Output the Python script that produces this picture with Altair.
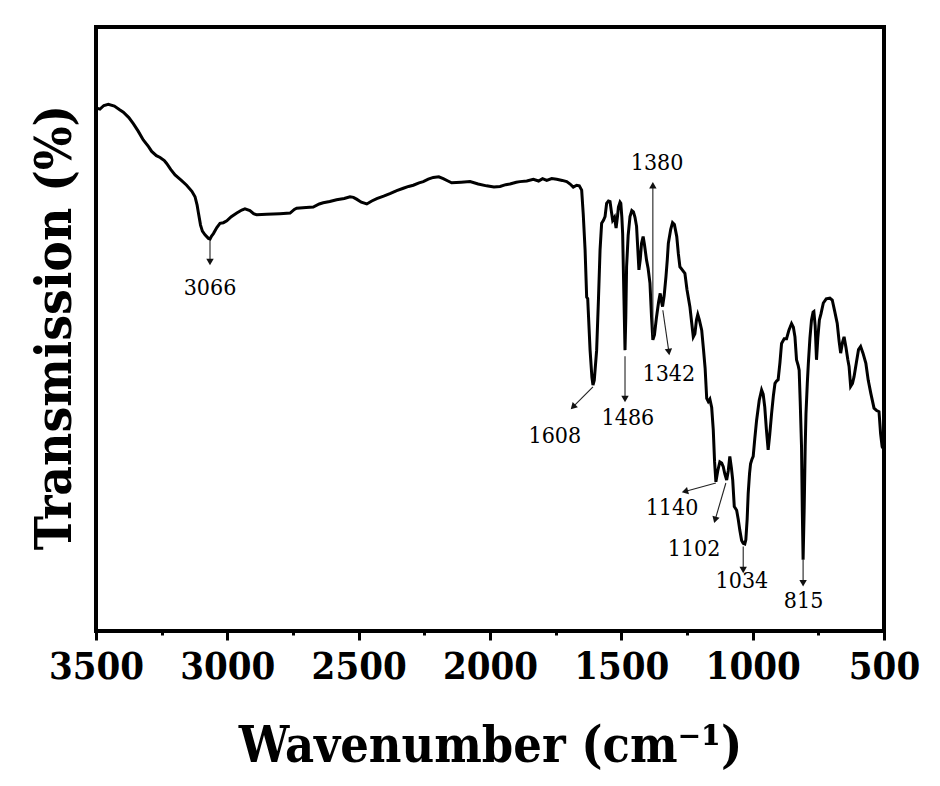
import math
import altair as alt
import pandas as pd

# ---------------- spectrum ----------------
wavenumber = [
    3500, 3485, 3470, 3453, 3430, 3410, 3396, 3375, 3358, 3340, 3320, 3300, 3288, 3270,
    3256, 3240, 3231, 3215, 3199, 3175, 3155, 3135, 3123, 3115, 3110, 3102, 3095, 3085,
    3072, 3066, 3060, 3053, 3040, 3028, 3015, 3002, 2985, 2964, 2945, 2933, 2914, 2900,
    2888, 2850, 2800, 2761, 2745, 2736, 2700, 2673, 2650, 2635, 2610, 2584, 2555, 2533,
    2520, 2508, 2490, 2469, 2450, 2431, 2405, 2381, 2355, 2330, 2310, 2292, 2270, 2254,
    2235, 2216, 2195, 2178, 2160, 2146, 2110, 2076, 2045, 2013, 1985, 1962, 1940, 1924,
    1900, 1886, 1860, 1835, 1815, 1800, 1784, 1765, 1746, 1725, 1708, 1695, 1683, 1670,
    1660, 1651, 1645, 1638, 1632, 1628, 1626, 1619, 1612, 1608, 1603, 1594, 1587, 1581,
    1575, 1568, 1562, 1556, 1549, 1543, 1538, 1533, 1526, 1520, 1515, 1511, 1505, 1502,
    1498, 1495, 1490, 1486, 1483, 1480, 1474, 1467, 1460, 1454, 1448, 1442, 1437, 1433,
    1428, 1423, 1417, 1412, 1404, 1398, 1391, 1385, 1380, 1374, 1366, 1358, 1352, 1347,
    1343, 1337, 1330, 1325, 1321, 1312, 1305, 1298, 1289, 1283, 1277, 1268, 1258, 1250,
    1239, 1232, 1226, 1220, 1214, 1209, 1203, 1194, 1187, 1181, 1175, 1169, 1163, 1156,
    1150, 1145, 1140, 1133, 1125, 1118, 1112, 1106, 1099, 1093, 1087, 1081, 1076, 1070,
    1061, 1055, 1049, 1042, 1036, 1030, 1026, 1021, 1017, 1012, 1008, 1003, 998, 992,
    985, 975, 966, 960, 954, 948, 941, 935, 928, 921, 915, 909, 903, 896,
    890, 880, 871, 862, 852, 845, 839, 833, 827, 823, 819, 814, 811, 808,
    804, 800, 797, 792, 788, 782, 776, 770, 767, 762, 757, 752, 746, 740,
    731, 720, 706, 697, 688, 678, 671, 665, 658, 652, 645, 638, 633, 627,
    620, 614, 605, 597, 589, 580, 569, 560, 550, 538, 528, 519, 513, 507, 500,
]
transmission = [
    86.6, 86.4, 87.0, 87.2, 86.9, 86.3, 85.9, 85.0, 84.0, 82.8, 81.3, 80.2, 79.4, 78.7,
    78.4, 77.9, 77.4, 76.4, 75.5, 74.6, 73.8, 72.8, 71.9, 70.5, 69.2, 67.2, 66.2, 65.6,
    65.0, 64.9, 65.4, 65.8, 66.8, 67.5, 67.6, 67.9, 68.6, 69.2, 69.7, 69.9, 69.6, 69.1,
    68.9, 69.0, 69.1, 69.2, 69.8, 70.0, 70.1, 70.2, 70.7, 70.9, 71.1, 71.4, 71.6, 71.9,
    71.8, 71.5, 71.0, 70.7, 71.2, 71.6, 72.0, 72.4, 72.9, 73.3, 73.6, 73.8, 74.2, 74.4,
    74.8, 75.1, 75.2, 74.9, 74.5, 74.2, 74.3, 74.4, 74.0, 73.7, 73.5, 73.6, 73.9, 74.0,
    74.3, 74.4, 74.5, 74.8, 74.5, 74.9, 74.6, 74.9, 74.8, 74.6, 74.4, 74.0, 73.5, 73.8,
    73.7, 73.0, 69.0, 63.1, 55.3, 55.0, 53.1, 46.5, 42.0, 40.7, 41.5, 46.5, 55.0, 63.1,
    67.5, 68.0, 68.6, 70.8, 71.2, 71.1, 69.5, 68.0, 68.5, 66.7, 68.5, 70.2, 71.0, 70.8,
    68.5, 65.8, 55.0, 46.5, 52.0, 60.3, 65.5, 68.6, 69.6, 69.4, 68.5, 67.0, 63.0, 59.8,
    61.5, 64.2, 65.3, 64.0, 61.4, 60.0, 57.6, 52.0, 48.2, 49.0, 52.0, 54.5, 55.9, 54.5,
    53.7, 55.5, 58.7, 61.5, 64.2, 66.5, 67.6, 67.3, 65.3, 62.5, 60.3, 59.8, 59.2, 56.5,
    53.7, 51.0, 48.7, 49.2, 51.5, 52.4, 51.5, 49.8, 46.5, 43.5, 38.5, 38.0, 38.4, 37.0,
    33.3, 28.0, 24.7, 26.5, 28.0, 27.8, 27.2, 26.0, 25.0, 26.5, 28.9, 27.0, 25.0, 20.6,
    20.0, 18.5, 16.7, 15.0, 14.5, 14.4, 15.1, 18.5, 22.8, 26.0, 27.7, 28.4, 28.9, 31.8,
    34.9, 38.2, 39.9, 39.2, 37.1, 33.5, 30.0, 32.5, 36.0, 39.0, 41.0, 41.4, 41.6, 44.5,
    47.6, 48.4, 48.4, 49.8, 50.9, 50.3, 48.7, 44.9, 44.0, 43.2, 38.0, 30.5, 20.0, 11.8,
    20.0, 30.5, 36.0, 41.0, 44.3, 48.5, 51.5, 52.8, 52.9, 50.5, 44.9, 48.5, 51.5, 52.5,
    54.3, 55.0, 55.1, 54.8, 53.0, 50.9, 48.0, 46.0, 47.8, 48.7, 47.0, 45.0, 43.8, 40.5,
    41.0, 42.1, 44.5, 46.6, 47.1, 46.0, 44.3, 41.5, 39.3, 36.9, 36.5, 36.3, 32.7, 30.5, 30.0,
]

# ---------------- peak annotations ----------------
peak_labels = ["3066", "1608", "1486", "1380", "1342", "1140", "1102", "1034", "815"]
tail_w = [3066, 1608, 1486, 1380, 1342, 1140, 1102, 1036, 808]
tail_t = [64.7, 40.4, 45.5, 49.0, 53.1, 24.5, 24.5, 14.0, 11.8]
head_w = [3066, 1684, 1486, 1380, 1319, 1258, 1143, 1036, 808]
head_t = [61.1, 37.1, 38.4, 73.8, 46.2, 23.1, 18.4, 10.1, 7.9]
text_w = [3066, 1753, 1475, 1364, 1319, 1307, 1223, 1041, 806]
text_t = [56.8, 32.3, 35.3, 77.5, 42.5, 20.4, 13.6, 8.2, 4.9]

x_ticks = [3500, 3250, 3000, 2750, 2500, 2250, 2000, 1750, 1500, 1250, 1000, 750, 500]

W, H = 788, 604
X_DOM = [3500, 500]
Y_DOM = [0, 100]

BOLD = "'DejaVu Serif Condensed', 'DejaVu Serif', serif"
REG = "'DejaVu Serif Condensed', 'DejaVu Serif', serif"

spec_df = pd.DataFrame({"w": wavenumber, "t": transmission})

kx = W / (X_DOM[0] - X_DOM[1])
ky = H / (Y_DOM[1] - Y_DOM[0])
angles = []
for tw, tt, hw, ht in zip(tail_w, tail_t, head_w, head_t):
    dx = -(hw - tw) * kx
    dy = -(ht - tt) * ky
    angles.append(math.degrees(math.atan2(dx, -dy)) % 360)

ann_df = pd.DataFrame({
    "label": peak_labels, "tw": tail_w, "tt": tail_t, "hw": head_w, "ht": head_t,
    "xw": text_w, "xt": text_t, "ang": angles,
})

xscale = alt.Scale(domain=X_DOM, nice=False, zero=False)
yscale = alt.Scale(domain=Y_DOM, nice=False, zero=False)

x_axis = alt.Axis(
    title="Wavenumber (cm⁻¹)",
    values=x_ticks,
    labelExpr="datum.value % 500 === 0 ? datum.label : ''",
    format="d",
    grid=False, domain=False,
    tickColor="black", tickWidth=3,
    tickSize={"condition": {"test": "datum.value % 500 === 0", "value": 9}, "value": 4},
    labelFont=BOLD, labelFontSize=38, labelFontWeight="bold", labelColor="black",
    labelPadding=8, labelFlush=False, labelOverlap=False,
    titleFont=BOLD, titleFontSize=50, titleFontWeight="bold", titleColor="black",
    titleX=W / 2, titleY=130, titleBaseline="alphabetic", titleAlign="center",
)
y_axis = alt.Axis(
    title="Transmission (%)",
    labels=False, ticks=False, domain=False, grid=False,
    titleFont=BOLD, titleFontSize=51, titleFontWeight="bold", titleColor="black",
    titleX=-26, titleY=H / 2 - 2, titleBaseline="alphabetic", titleAlign="center",
    titleAngle=270,
)

line = alt.Chart(spec_df).mark_line(color="black", strokeWidth=3, clip=True).encode(
    x=alt.X("w:Q", scale=xscale, axis=x_axis),
    y=alt.Y("t:Q", scale=yscale, axis=y_axis),
    order=alt.Order("w:Q", sort="descending"),
)

arrows = alt.Chart(ann_df).mark_rule(color="#222222", strokeWidth=1.1).encode(
    x=alt.X("tw:Q", scale=xscale), y=alt.Y("tt:Q", scale=yscale),
    x2="hw:Q", y2="ht:Q",
)
heads = alt.Chart(ann_df).mark_point(shape="triangle-up", filled=True, color="#111111",
                                     size=55, opacity=1).encode(
    x=alt.X("hw:Q", scale=xscale), y=alt.Y("ht:Q", scale=yscale),
    angle=alt.Angle("ang:Q", scale=None),
)
labels = alt.Chart(ann_df).mark_text(font=REG, fontSize=23, color="black",
                                     align="center", baseline="middle").encode(
    x=alt.X("xw:Q", scale=xscale), y=alt.Y("xt:Q", scale=yscale),
    text="label:N",
)

chart = alt.layer(line, arrows, heads, labels).properties(
    width=W, height=H,
    autosize=alt.AutoSizeParams(type="none"),
    padding={"left": 88, "top": 19, "right": 48, "bottom": 147},
    background="white",
).configure_view(stroke="black", strokeWidth=4)

chart.save("out.html", embed_options={"renderer": "svg", "actions": False})
